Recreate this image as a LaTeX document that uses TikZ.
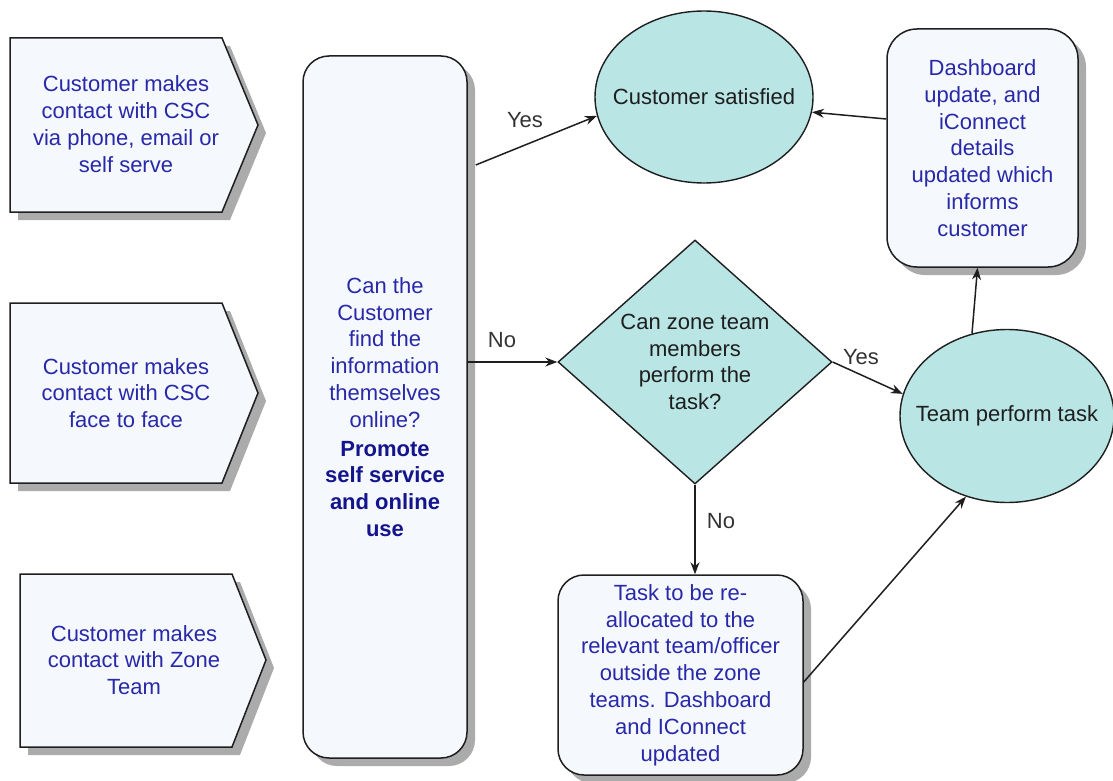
\documentclass[tikz,border=0pt]{standalone}
\usepackage{fontspec}
\setmainfont{Liberation Sans}
\usetikzlibrary{shapes.geometric,shadows,arrows.meta}

\definecolor{boxfill}{HTML}{F5F9FD}
\definecolor{bubble}{HTML}{B9E5E5}
\definecolor{inkblue}{HTML}{2828A8}
\definecolor{boldblue}{HTML}{14148C}
\definecolor{edge}{HTML}{1E1E1E}
\definecolor{shade}{HTML}{ABABAB}
\definecolor{labelgray}{HTML}{333333}

\begin{document}
\begin{tikzpicture}[x=1pt,y=-1pt,
  font=\fontsize{22}{26.8}\selectfont,
  pent/.style={draw=edge, line width=1.5pt, fill=boxfill, line join=miter},
  pentshadow/.style={fill=shade, shift={(8,8)}},
  pentext/.style={text=inkblue, align=center, inner sep=0pt},
  box/.style={draw=edge, line width=1.5pt, fill=boxfill, rounded corners=#1,
    text=inkblue, align=center, inner sep=0pt,
    drop shadow={shadow xshift=8pt, shadow yshift=-8pt, fill=shade, opacity=1}},
  bubblenode/.style={ellipse, draw=edge, line width=1.4pt, fill=bubble,
    text=edge, inner sep=0pt},
  flow/.style={draw=edge, line width=1.5pt, -{Stealth[length=12pt,width=9pt]}},
  lbl/.style={text=labelgray, inner sep=0pt}]

\useasboundingbox (0,0) rectangle (1113,781);

% entry points: three arrow-shaped panels on the left
\fill[pentshadow] (10,38) -- (222,38) -- (258,125) -- (222,212) -- (10,212) -- cycle;
\draw[pent] (10,38) -- (222,38) -- (258,125) -- (222,212) -- (10,212) -- cycle;
\node[pentext] (c1) at (126,124) {Customer makes\\contact with CSC\\via phone, email or\\self serve};

\fill[pentshadow] (10,303) -- (222,303) -- (258,393) -- (222,483) -- (10,483) -- cycle;
\draw[pent] (10,303) -- (222,303) -- (258,393) -- (222,483) -- (10,483) -- cycle;
\node[pentext] (c2) at (126,393) {Customer makes\\contact with CSC\\face to face};

\fill[pentshadow] (20,574) -- (232,574) -- (266,660) -- (232,747) -- (20,747) -- cycle;
\draw[pent] (20,574) -- (232,574) -- (266,660) -- (232,747) -- (20,747) -- cycle;
\node[pentext] (c3) at (134,660) {Customer makes\\contact with Zone\\Team};

% self-service question
\node[box=26pt, minimum width=164pt, minimum height=702pt] (tall) at (385,407)
  {Can the\\Customer\\find the\\information\\themselves\\online?\\[2pt]
   \textcolor{boldblue}{\textbf{Promote}}\\
   \textcolor{boldblue}{\textbf{self service}}\\
   \textcolor{boldblue}{\textbf{and online}}\\
   \textcolor{boldblue}{\textbf{use}}};

% outcomes and decision (label boxes kept zero-width so the ellipse keeps its size)
\node[bubblenode, minimum width=218pt, minimum height=172pt] (sat) at (704,97)
  {\makebox[0pt]{Customer satisfied}};
\node[diamond, draw=edge, line width=1.4pt, fill=bubble, text=edge, align=center,
      inner sep=0pt, shape aspect=1.123, minimum width=274pt, minimum height=244pt]
  (dia) at (695,362) {Can zone team\\members\\perform the\\task?};
\node[bubblenode, minimum width=214pt, minimum height=173pt] (team) at (1007,416)
  {\makebox[0pt]{Team perform task}};

\node[box=30pt, minimum width=191pt, minimum height=238pt] (dash) at (982.5,148)
  {Dashboard\\update, and\\iConnect\\details\\updated which\\informs\\customer};
\node[box=26pt, minimum width=245pt, minimum height=200pt] (task) at (680.5,675)
  {Task to be re-\\allocated to the\\relevant team/officer\\outside the zone\\teams. Dashboard\\and IConnect\\updated};

% connectors
\draw[flow] ([xshift=8pt,yshift=242pt]tall.east) -- (sat.190);
\draw[flow] (tall.east |- dia.west) -- (dia.west);
\draw[flow] (dia.east) -- (team.168);
\draw[flow] (dia.south) -- (dia.south |- task.north);
\draw[flow] ([yshift=-7pt]task.east) -- (team.243);
\draw[flow] (team.113) -- ([xshift=-5pt]dash.south);
\draw[flow] ([yshift=29pt]dash.west) -- (sat.-8);

% branch labels
\node[lbl] (yes1) at (525,120) {Yes};
\node[lbl] (no1) at (502,340) {No};
\node[lbl] (yes2) at (861,357) {Yes};
\node[lbl] (no2) at (721,521) {No};
\end{tikzpicture}
\end{document}
